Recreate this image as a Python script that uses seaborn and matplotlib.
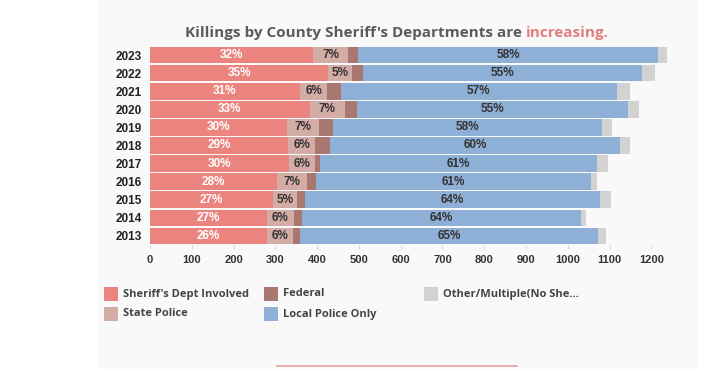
import numpy as np
import pandas as pd
import matplotlib
matplotlib.use("Agg")
import matplotlib.pyplot as plt
import seaborn as sns
from matplotlib.patches import Rectangle
from matplotlib.lines import Line2D

# Dados
years = ["2023", "2022", "2021", "2020", "2019", "2018", "2017", "2016", "2015", "2014", "2013"]
sheriff = [390, 427, 359, 382, 328, 331, 333, 303, 294, 279, 281]
state = [84, 57, 65, 84, 77, 64, 62, 72, 58, 65, 62]
federal = [24, 26, 33, 30, 33, 36, 12, 22, 18, 20, 17]
local = [718, 667, 660, 649, 644, 694, 664, 658, 707, 668, 712]
other = [21, 33, 33, 25, 24, 24, 26, 16, 26, 12, 19]

series_names = ["Sheriff's Dept Involved", "State Police", "Federal", "Local Police Only",
                "Other/Multiple(No Sheriff)"]
colors = ["#eb847e", "#d4aca6", "#a8776f", "#8fb0d6", "#d2d2d2"]
xticks = [0, 100, 200, 300, 400, 500, 600, 700, 800, 900, 1000, 1100, 1200]

df = pd.DataFrame({"year": years, "sheriff": sheriff, "state": state,
                   "federal": federal, "local": local, "other": other})
cols = ["sheriff", "state", "federal", "local", "other"]
cum = df[cols].cumsum(axis=1)
total = cum["other"]

W, H = 723, 369
fig = plt.figure(figsize=(W / 100, H / 100), dpi=100)
fig.patch.set_facecolor("white")
# painel cinza claro (atrás dos eixos)
fig.patches.append(Rectangle((97 / W, 0), (698 - 97) / W, 1, transform=fig.transFigure,
                             facecolor="#f9f9f9", edgecolor="none", zorder=-5))

ax = fig.add_axes([150 / W, (369 - 245) / H, 518 / W, 199 / H])
ax.set_facecolor("none")
ax.set_zorder(1)

# barras empilhadas: desenha do acumulado maior para o menor
for c, color in zip(cols[::-1], colors[::-1]):
    sns.barplot(x=cum[c], y=df["year"], order=years, color=color, width=0.92,
                orient="h", ax=ax, saturation=1, edgecolor="none")

ax.set_xlim(0, 1240)
ax.set_ylim(10.5, -0.5)
ax.set_xlabel("")
ax.set_ylabel("")
for s in ax.spines.values():
    s.set_visible(False)
ax.set_xticks(xticks)
ax.set_xticklabels([str(t) for t in xticks], fontsize=8, fontweight="bold",
                   color="#333333", family="Liberation Sans")
ax.tick_params(axis="x", length=3, width=0.6, color="#cccccc", pad=4)
ax.tick_params(axis="y", length=0, pad=6)
for lab in ax.get_yticklabels():
    lab.set_fontsize(8.5)
    lab.set_fontweight("bold")
    lab.set_color("#222222")
    lab.set_family("Liberation Sans")

# rótulos de porcentagem
for i in range(len(years)):
    t = total[i]
    segs = [("sheriff", 0, "white"), ("state", cum["sheriff"][i], "#333333"),
            ("local", cum["federal"][i], "#333333")]
    for c, start, tc in segs:
        v = df[c][i]
        ax.text(start + v / 2, i, f"{round(100 * v / t)}%", ha="center", va="center",
                fontsize=8.5, fontweight="bold", color=tc, family="Liberation Sans")

# título em duas cores
t1 = fig.text(0, 1 - 33 / H, "Killings by County Sheriff's Departments are ", fontsize=11,
              fontweight="bold", color="#5b5b5b", family="Open Sans", va="center", ha="left")
t2 = fig.text(0, 1 - 33 / H, "increasing.", fontsize=11, fontweight="bold",
              color="#e07f7c", family="Open Sans", va="center", ha="left")
fig.canvas.draw()
r = fig.canvas.get_renderer()
w1 = t1.get_window_extent(r).width
w2 = t2.get_window_extent(r).width
x0 = 397 - (w1 + w2) / 2
t1.set_x(x0 / W)
t2.set_x((x0 + w1) / W)

# legenda manual
leg_pos = [(104, 294), (104, 314), (264, 294), (264, 314), (424, 294)]
leg_text = ["Sheriff's Dept Involved", "State Police", "Federal", "Local Police Only",
            "Other/Multiple(No She..."]
for (lx, ly), txt, color in zip(leg_pos, leg_text, colors):
    fig.patches.append(Rectangle((lx / W, 1 - (ly + 7) / H), 14 / W, 14 / H,
                                 transform=fig.transFigure, facecolor=color,
                                 edgecolor="none"))
    fig.text((lx + 19) / W, 1 - ly / H, txt, fontsize=8, fontweight="bold",
             color="#444444", family="Open Sans", va="center", ha="left")

# linha decorativa inferior
fig.lines.append(Line2D([277 / W, 517 / W], [1 - 366 / H, 1 - 366 / H],
                        transform=fig.transFigure, color="#e9a19c", linewidth=1.2))

fig.savefig("out.png", dpi=100, facecolor=fig.get_facecolor())
